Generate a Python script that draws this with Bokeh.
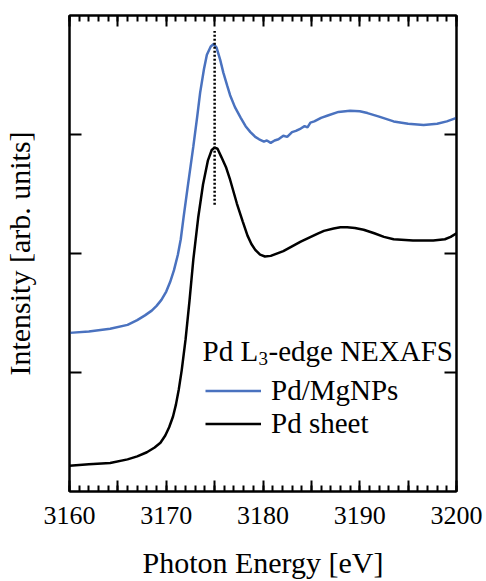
from bokeh.plotting import figure
from bokeh.models import (LinearAxis, FixedTicker, Range1d, Legend, LegendItem, Label,
                          CustomLabelingPolicy)
from bokeh.embed import file_html
from bokeh.resources import INLINE

# ---------------- data ----------------
sheet_e = [3160, 3162, 3164.2, 3166, 3167, 3168, 3168.8, 3169.4, 3169.9, 3170.3,
           3170.7, 3171.0, 3171.3, 3171.6, 3172, 3172.4, 3172.8, 3173.3, 3173.8, 3174.3,
           3174.7, 3175, 3175.3, 3175.7, 3176.2, 3176.6, 3177.3, 3177.9, 3178.4, 3178.8,
           3179.2, 3179.7, 3180.2, 3180.8, 3182.1, 3183.9, 3185.6, 3186.3, 3187.3, 3188,
           3188.7, 3189.5, 3190.4, 3191.5, 3192.5, 3193.5, 3195.5, 3197.6, 3198.8, 3199.4,
           3200]
sheet_i = [0.217, 0.228, 0.24, 0.27, 0.295, 0.33, 0.37, 0.41, 0.47, 0.54,
           0.63, 0.73, 0.86, 1.02, 1.28, 1.60, 1.95, 2.30, 2.58, 2.78,
           2.87, 2.89, 2.88, 2.81, 2.72, 2.62, 2.42, 2.27, 2.15, 2.08,
           2.03, 1.99, 1.975, 1.98, 2.02, 2.10, 2.165, 2.19, 2.21, 2.22,
           2.22, 2.215, 2.20, 2.17, 2.14, 2.12, 2.11, 2.11, 2.12, 2.14,
           2.17]

np_e = [3160, 3162, 3164.2, 3166, 3167, 3167.8, 3168.5, 3169, 3169.5, 3170,
        3170.4, 3170.8, 3171.2, 3171.5, 3171.8, 3172.2, 3172.8, 3173.2, 3173.5, 3173.9,
        3174.2, 3174.6, 3174.9, 3175.2, 3175.6, 3175.9, 3176.3, 3176.6, 3177.1, 3177.7,
        3178.2, 3178.7, 3179.2, 3179.6, 3180.1, 3180.4, 3180.8, 3181.2, 3181.6, 3182.1,
        3182.5, 3183, 3183.4, 3183.9, 3184.3, 3184.6, 3184.9, 3185.3, 3186, 3186.7,
        3187.8, 3189, 3190, 3190.8, 3192, 3193.5, 3195, 3196.6, 3198, 3199,
        3200]
np_i = [1.333, 1.345, 1.367, 1.40, 1.44, 1.48, 1.52, 1.56, 1.61, 1.68,
        1.76, 1.86, 1.99, 2.12, 2.31, 2.55, 2.90, 3.15, 3.35, 3.55,
        3.67, 3.74, 3.76, 3.73, 3.62, 3.52, 3.41, 3.33, 3.23, 3.14,
        3.07, 3.02, 2.98, 2.96, 2.94, 2.95, 2.93, 2.95, 2.96, 2.99,
        2.98, 3.02, 3.03, 3.05, 3.07, 3.06, 3.10, 3.11, 3.14, 3.16,
        3.19, 3.20, 3.195, 3.18, 3.15, 3.11, 3.09, 3.08, 3.09, 3.11,
        3.14]

peak_energy = [3175, 3175]
peak_marker = [2.41, 3.87]

x_major_ticks = [3160, 3165, 3170, 3175, 3180, 3185, 3190, 3195, 3200]
x_minor_ticks = [float(v) for v in range(3160, 3201)]
y_ticks = [1, 2, 3]

BLUE = "#4a72bf"
FONT = "Liberation Serif"

even_policy = CustomLabelingPolicy(code="""
const n = indices.size
for (let i = 0; i < n; i++) { if (i % 2 == 1) indices.unset(i) }
return indices
""")

def no_labels():
    return CustomLabelingPolicy(code="""
const n = indices.size
for (let i = 0; i < n; i++) { indices.unset(i) }
return indices
""")

p = figure(width=486, height=581, output_backend="svg", toolbar_location=None,
           x_range=Range1d(3160, 3200), y_range=Range1d(0, 4),
           x_axis_location="below", y_axis_location="left",
           min_border_left=69, min_border_right=30, min_border_top=15, min_border_bottom=84)
p.background_fill_color = "white"
p.border_fill_color = "white"
p.outline_line_color = "black"
p.outline_line_width = 2
p.xgrid.visible = False
p.ygrid.visible = False

def style_x(ax, labels=True):
    ax.ticker = FixedTicker(ticks=x_major_ticks, minor_ticks=x_minor_ticks)
    ax.major_tick_in = 11
    ax.major_tick_out = 0
    ax.minor_tick_in = 6
    ax.minor_tick_out = 0
    ax.major_tick_line_width = 2
    ax.minor_tick_line_width = 2
    ax.axis_line_width = 2
    ax.major_tick_line_color = "black"
    ax.minor_tick_line_color = "black"
    ax.axis_line_color = "black"
    if labels:
        ax.major_label_policy = even_policy
        ax.major_label_text_font = FONT
        ax.major_label_text_font_size = "26px"
        ax.major_label_text_color = "black"
        ax.major_label_standoff = 15
    else:
        ax.major_label_policy = no_labels()
        ax.major_label_text_font_size = "8px"
        ax.major_label_standoff = 0

def style_y(ax):
    ax.ticker = FixedTicker(ticks=y_ticks, minor_ticks=[])
    ax.major_tick_in = 12
    ax.major_tick_out = 0
    ax.minor_tick_in = 0
    ax.minor_tick_out = 0
    ax.major_tick_line_width = 2
    ax.axis_line_width = 2
    ax.major_tick_line_color = "black"
    ax.axis_line_color = "black"
    ax.major_label_policy = no_labels()
    ax.major_label_text_font_size = "8px"
    ax.major_label_standoff = 0

xb = p.xaxis[0]
style_x(xb, True)
xb.axis_label = "Photon Energy [eV]"
xb.axis_label_text_font = FONT
xb.axis_label_text_font_size = "30px"
xb.axis_label_text_font_style = "normal"
xb.axis_label_text_color = "black"
xb.axis_label_standoff = 19

yl = p.yaxis[0]
style_y(yl)
yl.axis_label = "Intensity [arb. units]"
yl.axis_label_text_font = FONT
yl.axis_label_text_font_size = "30px"
yl.axis_label_text_font_style = "normal"
yl.axis_label_text_color = "black"
yl.axis_label_standoff = 26

xt = LinearAxis()
style_x(xt, False)
p.add_layout(xt, "above")

yr = LinearAxis()
style_y(yr)
p.add_layout(yr, "right")

r_np = p.line(np_e, np_i, line_color=BLUE, line_width=2.5)
r_sheet = p.line(sheet_e, sheet_i, line_color="black", line_width=2.5)
p.line(peak_energy, peak_marker, line_color="black", line_width=2.5, line_dash="2 2")

legend = Legend(items=[LegendItem(label="Pd/MgNPs", renderers=[r_np]),
                       LegendItem(label="Pd sheet", renderers=[r_sheet])],
                location=(136, 51), padding=0, margin=0, spacing=0,
                glyph_width=56, glyph_height=31, label_height=31, label_standoff=10,
                label_text_font=FONT, label_text_font_size="29px", label_text_color="black",
                background_fill_alpha=0, border_line_alpha=0)
p.add_layout(legend, "center")

title_x = 3173.75
title_y = 1.18
for txt, dx, dy, size in [("Pd L", 0, 0, "29px"), ("3", 56, -7, "19px"), ("-edge NEXAFS", 66, 0, "29px")]:
    p.add_layout(Label(x=title_x, y=title_y, x_offset=dx, y_offset=dy, text=txt,
                       text_font=FONT, text_font_size=size, text_color="black",
                       text_baseline="alphabetic", text_align="left"))

open("out.html", "w").write(file_html(p, INLINE))
